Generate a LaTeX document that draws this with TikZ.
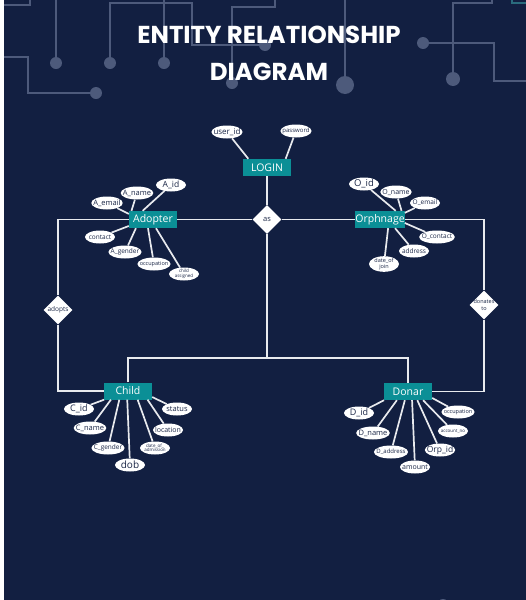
\documentclass[tikz,border=0pt]{standalone}
\usepackage{fontspec}
\setmainfont{Open Sans}
\newfontfamily\titlefont{Poppins}
\usepackage{tikz}
\usetikzlibrary{shapes.geometric}

\definecolor{navybg}{HTML}{121F41}
\definecolor{tealbox}{HTML}{0B8F96}
\definecolor{wiregrey}{HTML}{4D5A7B}
\definecolor{inktext}{HTML}{1B2747}
\definecolor{linkgrey}{HTML}{E8EAEE}

\begin{document}
\begin{tikzpicture}[x=1pt, y=-1pt,
    entity/.style={fill=tealbox, text=white, minimum width=48, minimum height=17, inner sep=0pt, font=\fontsize{10.5}{10.5}\selectfont},
    attr/.style={ellipse, fill=white, text=inktext, minimum width=30, minimum height=13, inner xsep=-2.5pt, inner ysep=0pt, align=center, font=\fontsize{#1}{#1}\selectfont},
    attr/.default=6,
    rel/.style={diamond, fill=white, text=inktext, minimum width=29, minimum height=29, inner sep=-1.5pt, align=center, font=\fontsize{6.5}{6.5}\selectfont},
    link/.style={draw=linkgrey, line width=1.7pt},
    wire/.style={draw=wiregrey, line width=2.5pt},
    dot/.style={fill=wiregrey}]
        \useasboundingbox (0,0) rectangle (526,600);
        % fondo
        \fill[white] (0,0) rectangle (526,600);
        \fill[navybg] (4,0) rectangle (526,600);

        % circuito de fondo
        \begin{scope}
        \clip (4,0) rectangle (526,600);
        \draw[wire] (4,5) -- (30,5) -- (30,0);
        \draw[wire] (56,0) -- (56,63);
        \draw[wire] (110,63) -- (110,3) -- (192,3) -- (192,45) -- (265,45);
        \draw[wire] (164,0) -- (164,63);
        \draw[wire] (4,57) -- (28,57) -- (28,93) -- (96,93);
        \draw[wire] (232,83) -- (232,7) -- (275,7) -- (275,0);
        \draw[wire] (345,0) -- (345,85);
        \draw[wire] (423,43) -- (494,43) -- (494,81) -- (526,81);
        \draw[wire] (453,79) -- (453,3) -- (492,3) -- (492,0);
        \draw[wire, draw=teal!45!wiregrey] (512,0) -- (512,3) -- (526,3);
        \fill[dot] (56,63) circle (6);
        \fill[dot] (110,63) circle (6);
        \fill[dot] (164,63) circle (6);
        \fill[dot] (96,93) circle (6);
        \fill[dot] (265,45) circle (6);
        \fill[dot] (232,83) circle (6);
        \fill[dot] (345,85) circle (9);
        \fill[dot] (423,43) circle (6);
        \fill[dot] (453,79) circle (7);
        \fill[dot] (443,605) circle (6);
        \end{scope}

        % titulo
        \node[text=white, font=\titlefont\bfseries\fontsize{24.5}{24.5}\selectfont] (title1) at (269,35) {ENTITY RELATIONSHIP};
        \node[text=white, font=\titlefont\bfseries\fontsize{24.5}{24.5}\selectfont] (title2) at (269,72) {DIAGRAM};

        % entidades
        \node[entity] (login) at (267,167.5) {LOGIN};
        \node[entity] (adopter) at (153,219.5) {Adopter};
        \node[entity] (orphnage) at (380,219.5) {Orphnage};
        \node[entity] (child) at (128,391) {Child};
        \node[entity] (donar) at (408,391.5) {Donar};

        % relaciones
        \node[rel, font=\fontsize{7.5}{7.5}\selectfont] (as) at (267,219.5) {as};
        \node[rel] (adopts) at (58,310) {adopts};
        \node[rel, font=\fontsize{5.5}{7}\selectfont] (donates) at (484,305) {donates\\to};

        \draw[link] (login) -- (as);
        \draw[link] (adopter) -- (as);
        \draw[link] (as) -- (orphnage);
        \draw[link] (adopter.west) -| (adopts.north);
        \draw[link] (adopts.south) |- (child.west);
        \draw[link] (orphnage.east) -| (donates.north);
        \draw[link] (donates.south) |- (donar.east);
        \coordinate (fork) at (267,358);
        \draw[link] (as.south) -- (fork);
        \draw[link] (child.north) |- (fork) -| (donar.north);

        % atributos de LOGIN
        \node[attr=8] (userid) at (227,132) {user\_id};
        \node[attr=6] (password) at (296,131) {password};
        \draw[link] (userid) -- (login.155);
        \draw[link] (password) -- (login.25);

        % atributos de Adopter
        \node[attr=8.5] (aid) at (171,185) {A\_id};
        \node[attr=7.5] (aname) at (137,193) {A\_name};
        \node[attr=7.5] (aemail) at (107,203) {A\_email};
        \node[attr=6.5] (acontact) at (100,237) {contact};
        \node[attr=6.5] (agender) at (125,252) {A\_gender};
        \node[attr=5.5] (aoccup) at (154,264) {occupation};
        \node[attr=4.5] (achild) at (184,274) {child\\assigned};
        \draw[link] (aid) -- (adopter.140);
        \draw[link] (aname) -- (adopter.158);
        \draw[link] (aemail) -- (adopter.167);
        \draw[link] (acontact) -- (adopter.195);
        \draw[link] (agender) -- (adopter.207);
        \draw[link] (aoccup) -- (adopter.240);
        \draw[link] (achild) -- (adopter.289);

        % atributos de Orphnage
        \node[attr=9.5] (oid) at (364,184) {O\_id};
        \node[attr=7] (oname) at (396,192) {O\_name};
        \node[attr=6.5] (oemail) at (425,203) {O\_email};
        \node[attr=6.5] (ocontact) at (437,237) {O\_contact};
        \node[attr=6.5] (oaddress) at (414,251) {address};
        \node[attr=5.5, minimum height=15] (ojoin) at (384,264) {date\_of\\join};
        \draw[link] (oid) -- (orphnage.29);
        \draw[link] (oname) -- (orphnage.22);
        \draw[link] (oemail) -- (orphnage.15);
        \draw[link] (ocontact) -- (orphnage.352);
        \draw[link] (oaddress) -- (orphnage.330);
        \draw[link] (ojoin) -- (orphnage.313);

        % atributos de Child
        \node[attr=9] (cid) at (79,409) {C\_id};
        \node[attr=7.5] (cname) at (90,428) {C\_name};
        \node[attr=6.5] (cgender) at (108,448) {C\_gender};
        \node[attr=10] (cdob) at (130,465) {dob};
        \node[attr=4.5] (cadmit) at (155,448) {date\_of\_\\admission};
        \node[attr=7] (clocation) at (168,430) {location};
        \node[attr=7.5] (cstatus) at (177,409) {status};
        \draw[link] (cid) -- (child.200);
        \draw[link] (cname) -- (child.207);
        \draw[link] (cgender) -- (child.225);
        \draw[link] (cdob) -- (child.265);
        \draw[link] (cadmit) -- (child.318);
        \draw[link] (clocation) -- (child.336);
        \draw[link] (cstatus) -- (child.346);

        % atributos de Donar
        \node[attr=9] (did) at (359,413) {D\_id};
        \node[attr=7.5] (dname) at (373,433) {D\_name};
        \node[attr=6] (daddress) at (391,452) {D\_address};
        \node[attr=7] (damount) at (415,467) {amount};
        \node[attr=8.5] (dorp) at (440,450) {Orp\_id};
        \node[attr=4.5] (daccount) at (453,431) {account\_no};
        \node[attr=5.5] (doccup) at (458,412) {occupation};
        \draw[link] (did) -- (donar.200);
        \draw[link] (dname) -- (donar.218);
        \draw[link] (daddress) -- (donar.250);
        \draw[link] (damount) -- (donar.295);
        \draw[link] (dorp) -- (donar.317);
        \draw[link] (daccount) -- (donar.330);
        \draw[link] (doccup) -- (donar.345);
    \end{tikzpicture}
\end{document}
